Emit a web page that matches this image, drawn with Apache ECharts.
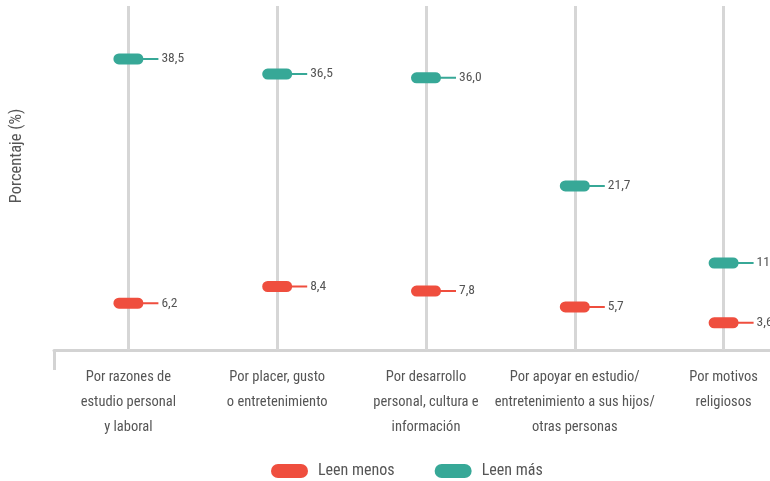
<!DOCTYPE html>
<html>
<head>
<meta charset="utf-8">
<script src="https://cdn.jsdelivr.net/npm/echarts@6/dist/echarts.min.js"></script>
<style>html,body{margin:0;padding:0;background:#fff}#c{width:770px;height:481px}</style>
</head>
<body>
<div id="c"></div>
<script>
const categories = [
  'Por razones de\nestudio personal\ny laboral',
  'Por placer, gusto\no entretenimiento',
  'Por desarrollo\npersonal, cultura e\ninformación',
  'Por apoyar en estudio/\nentretenimiento a sus hijos/\notras personas',
  'Por motivos\nreligiosos'
];
const leenMenos = [6.2, 8.4, 7.8, 5.7, 3.6];
const leenMas = [38.5, 36.5, 36.0, 21.7, 11.5];
const seriesNames = ['Leen menos', 'Leen más'];
const yAxisTitle = 'Porcentaje (%)';

const FONT = "'Roboto Condensed', 'Liberation Sans Narrow', 'DejaVu Sans Condensed', 'Roboto', sans-serif";
const RED = '#EF4E3E';
const TEAL = '#37A897';
const TXT = '#555555';

const markerPath = 'path://M5.5,0 H24.5 A5.5,5.5 0 0 1 29.9,4.5 H45 V6.5 H29.9 A5.5,5.5 0 0 1 24.5,11 H5.5 A5.5,5.5 0 0 1 5.5,0 Z';
const legendPath = 'path://M7,0 H30 A7,7 0 0 1 30,14 H7 A7,7 0 0 1 7,0 Z';

function mkSeries(name, data, color, withLines) {
  const s = {
    name: name,
    type: 'scatter',
    data: data,
    z: 3,
    symbol: markerPath,
    symbolSize: [45, 11],
    symbolOffset: [7.5, 0],
    itemStyle: { color: color, opacity: 1 },
    label: {
      show: true,
      position: 'right',
      distance: 3,
      color: TXT,
      fontFamily: FONT,
      fontSize: 13.5,
      formatter: p => String(p.value.toFixed(1)).replace('.', ',')
    },
    emphasis: { disabled: true }
  };
  if (withLines) {
    s.markLine = {
      silent: true,
      z: 1,
      symbol: ['none', 'none'],
      label: { show: false },
      lineStyle: { color: '#d6d6d6', width: 3, type: 'solid' },
      data: categories.map(c => ({ xAxis: c }))
    };
  }
  return s;
}

const chart = echarts.init(document.getElementById('c'), null, { renderer: 'canvas' });
chart.setOption({
  animation: false,
  backgroundColor: '#fff',
  grid: { left: 54, right: -28, top: 6, bottom: 131, containLabel: false, outerBoundsMode: 'none' },
  legend: {
    data: [
      { name: seriesNames[0], icon: legendPath },
      { name: seriesNames[1], icon: legendPath }
    ],
    left: 266,
    top: 458,
    itemWidth: 37,
    itemHeight: 14,
    itemGap: 40,
    textStyle: { color: TXT, fontFamily: FONT, fontSize: 16, padding: [0, 0, 0, 5] },
    selectedMode: false
  },
  xAxis: {
    type: 'category',
    data: categories,
    boundaryGap: true,
    axisLine: { show: true, lineStyle: { color: '#d3d3d3', width: 3 } },
    axisTick: { show: true, length: 20, interval: (i) => i === 0, lineStyle: { color: '#d3d3d3', width: 3 } },
    axisLabel: { color: TXT, fontFamily: FONT, fontSize: 14.5, lineHeight: 25, margin: 15, interval: 0 },
    splitLine: { show: false }
  },
  yAxis: {
    type: 'value',
    min: 0,
    max: 45.5,
    name: yAxisTitle,
    nameLocation: 'middle',
    nameGap: 29,
    nameTextStyle: { color: TXT, fontFamily: FONT, fontSize: 16.5, padding: [0, 0, 0, 44] },
    axisLine: { show: false },
    axisTick: { show: false },
    axisLabel: { show: false },
    splitLine: { show: false }
  },
  series: [
    mkSeries(seriesNames[0], leenMenos, RED, false),
    mkSeries(seriesNames[1], leenMas, TEAL, true)
  ]
});
</script>
</body>
</html>
